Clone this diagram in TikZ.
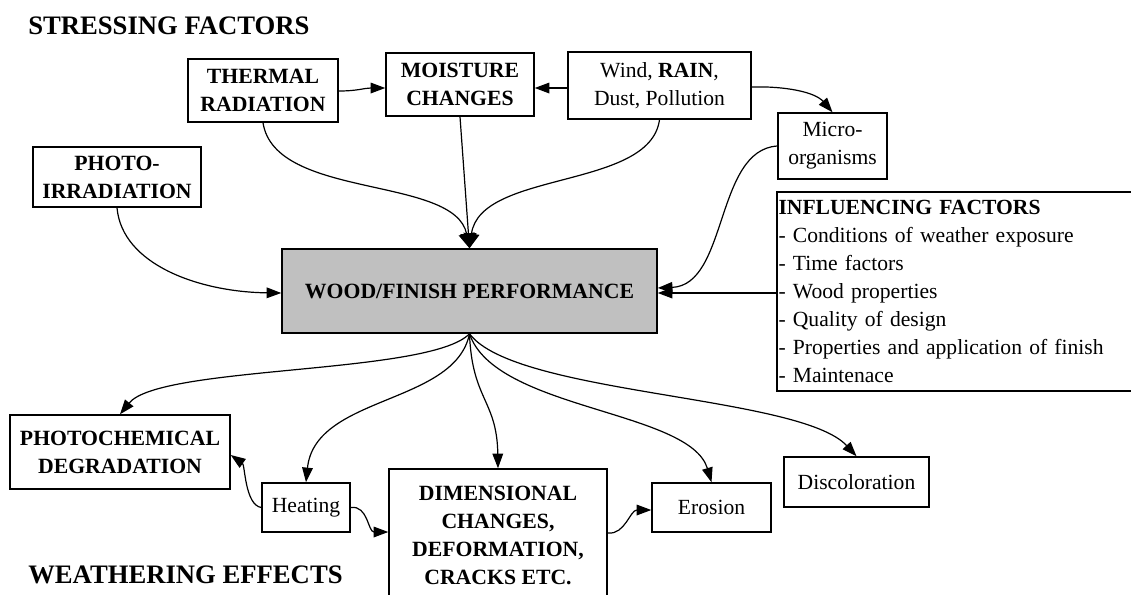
\documentclass[tikz,border=0pt]{standalone}
\usepackage{fontspec}
\setmainfont{Liberation Serif}
\usetikzlibrary{arrows.meta}
\newdimen\pxu \pxu=0.75pt
\definecolor{boxgray}{HTML}{C0C0C0}
\begin{document}
\begin{tikzpicture}[x=0.75pt,y=-0.75pt,
  bbox/.style={draw, line width=1.1pt, inner sep=0pt, align=center,
    font=\fontsize{16.3}{21}\selectfont\bfseries},
  rbox/.style={draw, line width=1.1pt, inner sep=0pt, align=center,
    font=\fontsize{16.2}{21}\selectfont},
  title/.style={anchor=base west, inner sep=0pt, font=\fontsize{20}{24}\selectfont\bfseries},
  conn/.style={line width=0.9pt, -{Triangle[length=11pt,width=8pt]}},
  bigconn/.style={line width=0.9pt, -{Triangle[length=11pt,width=12pt]}}]
\useasboundingbox (0,0) rectangle (1131,594);
\clip (0,0) rectangle (1131,594);

% titles
\node[title] (tstress) at (28,34) {STRESSING FACTORS};
\node[title] (tweather) at (28,583) {WEATHERING EFFECTS};

% stressing factors
\node[bbox, minimum width=150\pxu, minimum height=63\pxu] (thermal) at (263,90.5) {THERMAL\\RADIATION};
\node[bbox, minimum width=148\pxu, minimum height=63\pxu] (moisture) at (460,84.5) {MOISTURE\\CHANGES};
\node[rbox, minimum width=183\pxu, minimum height=67\pxu] (wind) at (659.5,85.5) {Wind, \textbf{RAIN},\\Dust, Pollution};
\node[rbox, minimum width=109\pxu, minimum height=66\pxu] (micro) at (832.5,146) {Micro-\\organisms};
\node[bbox, minimum width=168\pxu, minimum height=60\pxu] (photo) at (117,177) {PHOTO-\\IRRADIATION};

% central box
\node[bbox, fill=boxgray, minimum width=375\pxu, minimum height=84\pxu] (main) at (469.5,291) {WOOD/FINISH PERFORMANCE};

% influencing factors
\node[draw, line width=1.1pt, inner xsep=1.5\pxu, inner ysep=0pt, align=left,
  text width=360\pxu, minimum height=199\pxu,
  font=\fontsize{16.2}{21}\selectfont] (infl) at (958.5,291.5)
  {\textbf{INFLUENCING FACTORS}\\- Conditions of weather exposure\\- Time factors\\- Wood properties\\- Quality of design\\- Properties and application of finish\\- Maintenace};

% weathering effects
\node[bbox, minimum width=220\pxu, minimum height=74\pxu] (photochem) at (120,452) {PHOTOCHEMICAL\\DEGRADATION};
\node[rbox, minimum width=88\pxu, minimum height=49\pxu] (heating) at (306,507.5) {Heating};
\node[bbox, minimum width=218\pxu, minimum height=132\pxu] (dim) at (498,535) {DIMENSIONAL\\CHANGES,\\DEFORMATION,\\CRACKS ETC.};
\node[rbox, minimum width=119\pxu, minimum height=49\pxu] (erosion) at (711.5,507.5) {Erosion};
\node[rbox, minimum width=145\pxu, minimum height=50\pxu] (discol) at (856.5,482) {Discoloration};

% connectors among stressing factors
\draw[conn] (thermal.east |- 0,91) .. controls (358,91) and (364,88) .. (moisture.west |- 0,88);
\draw[conn] (wind.west |- 0,88) -- (moisture.east |- 0,88);
\draw[conn] (wind.east |- 0,87) .. controls (785,86) and (815,92) .. (micro.north);

% into the central box
\draw[bigconn] (thermal.south) .. controls (275,200) and (455,175) .. (main.north);
\draw[bigconn] (moisture.south) -- (main.north);
\draw[bigconn] (wind.south) .. controls (650,190) and (480,170) .. (main.north);
\draw[conn] (photo.south) .. controls (122,265) and (200,292) .. (main.west |- 0,293);
\draw[conn] (micro.west) .. controls (715,150) and (728,285) .. (main.east |- 0,288);
\draw[conn] (infl.west |- 0,293) -- (main.east |- 0,293);

% out of the central box
\draw[conn] (main.south) .. controls (430,375) and (160,365) .. (photochem.north);
\draw[conn] (main.south) .. controls (455,405) and (315,395) .. (heating.north);
\draw[conn] (main.south) .. controls (472,400) and (497,400) .. (dim.north);
\draw[conn] (main.south) .. controls (495,410) and (690,410) .. (erosion.north);
\draw[conn] (main.south) .. controls (515,395) and (800,395) .. (discol.north);

% among weathering effects
\draw[conn] (heating.west) .. controls (245,505) and (245,465) .. (photochem.east |- 0,455);
\draw[conn] (heating.east) .. controls (368,505) and (368,532) .. (dim.west |- 0,532);
\draw[conn] (dim.east |- 0,533) .. controls (625,535) and (630,510) .. (erosion.west |- 0,510);
\end{tikzpicture}
\end{document}
